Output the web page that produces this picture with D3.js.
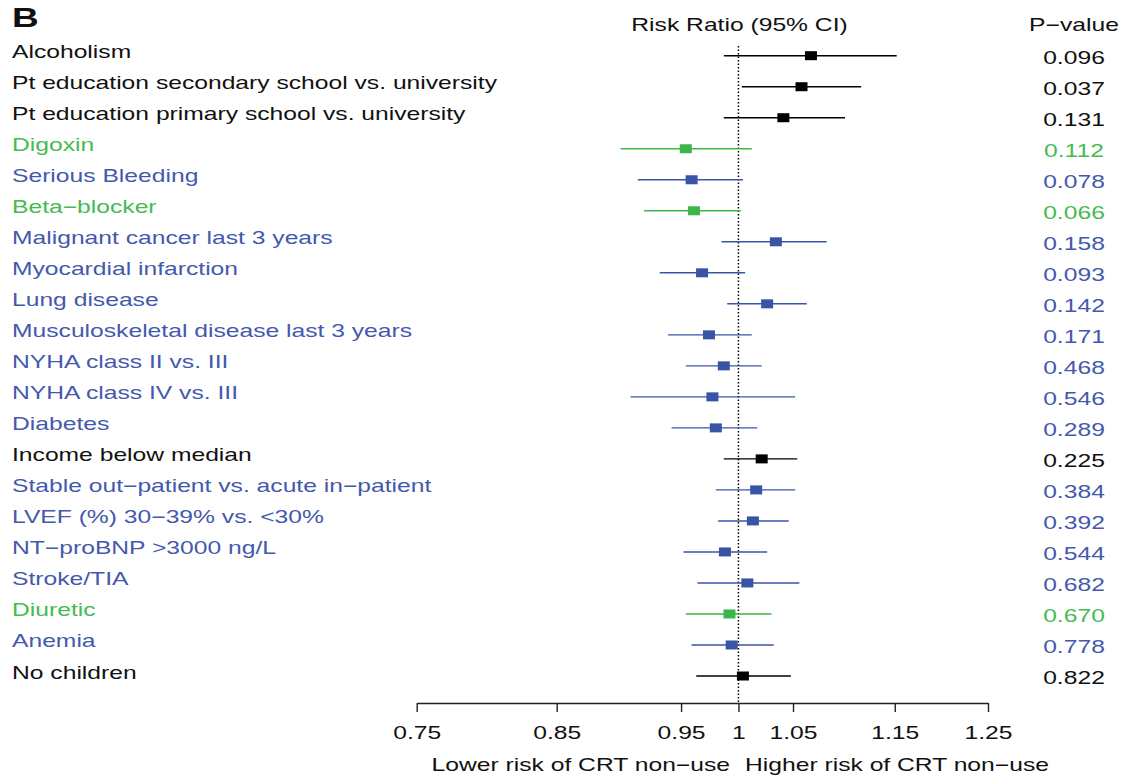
<!DOCTYPE html>
<html>
<head>
<meta charset="utf-8">
<script src="https://cdn.jsdelivr.net/npm/d3@7"></script>
<style>
  body { margin: 0; background: #fff; }
  svg { display: block; font-family: "Liberation Sans", Arial, Helvetica, sans-serif; }
</style>
</head>
<body>
<svg id="canvas" width="1121" height="775"></svg>
<script>
// rows, top to bottom
let labels = [
  'Alcoholism',
  'Pt education secondary school vs. university',
  'Pt education primary school vs. university',
  'Digoxin',
  'Serious Bleeding',
  'Beta\u2212blocker',
  'Malignant cancer last 3 years',
  'Myocardial infarction',
  'Lung disease',
  'Musculoskeletal disease last 3 years',
  'NYHA class II vs. III',
  'NYHA class IV vs. III',
  'Diabetes',
  'Income below median',
  'Stable out\u2212patient vs. acute in\u2212patient',
  'LVEF (%) 30\u221239% vs. <30%',
  'NT\u2212proBNP >3000 ng/L',
  'Stroke/TIA',
  'Diuretic',
  'Anemia',
  'No children'
]
let riskRatio = [1.067, 1.058, 1.041, 0.954, 0.959, 0.961, 1.034, 0.968, 1.026, 0.974, 0.987,
                 0.977, 0.980, 1.021, 1.016, 1.013, 0.988, 1.008, 0.992, 0.994, 1.004]
let ciLow = [0.987, 1.003, 0.987, 0.900, 0.914, 0.919, 0.985, 0.932, 0.990, 0.939, 0.954,
             0.908, 0.942, 0.987, 0.980, 0.982, 0.952, 0.964, 0.954, 0.959, 0.963]
let ciHigh = [1.152, 1.116, 1.100, 1.012, 1.004, 1.002, 1.082, 1.006, 1.063, 1.012, 1.021,
              1.052, 1.017, 1.054, 1.052, 1.046, 1.026, 1.056, 1.030, 1.032, 1.048]
let pValues = ['0.096', '0.037', '0.131', '0.112', '0.078', '0.066', '0.158', '0.093', '0.142', '0.171', '0.468',
               '0.546', '0.289', '0.225', '0.384', '0.392', '0.544', '0.682', '0.670', '0.778', '0.822']
let groups = ['k', 'k', 'k', 'g', 'b', 'g', 'b', 'b', 'b', 'b', 'b',
              'b', 'b', 'k', 'b', 'b', 'b', 'b', 'g', 'b', 'k']
let tickValues = [0.75, 0.85, 0.95, 1, 1.05, 1.15, 1.25]

let markColor = {k: '#000000', g: '#3cb54a', b: '#3a54a5'}
let textColor = {k: '#111111', g: '#45bb50', b: '#4459ad'}

let SX = 1.37   // the figure is stretched sideways
let canvas = d3.select('#canvas')

let x = d3.scaleLog().domain([0.75, 1.25]).range([416.7, 988])
let y = d3.scalePoint().domain(d3.range(labels.length)).range([55.7, 676])

let addText = (str, px, py, opts) => {
  let t = canvas.append('text')
    .attr('transform', 'translate(' + px + ',' + py + ') scale(' + SX + ',1)')
    .attr('font-size', opts.size || 18)
    .attr('text-anchor', opts.anchor || 'start')
    .attr('fill', opts.fill || '#111')
    .text(str)
  if (opts.bold) t.attr('font-weight', 'bold')
  return t
}

// panel letter and headers
addText('B', 12, 26.5, {size: 27, bold: true})
addText('Risk Ratio (95% CI)', 739.5, 31, {anchor: 'middle'})
addText('P\u2212value', 1074, 31, {anchor: 'middle'})

// reference line at 1
canvas.append('line')
  .attr('x1', x(1)).attr('x2', x(1))
  .attr('y1', 46).attr('y2', 703)
  .attr('stroke', '#000')
  .attr('stroke-width', 1.5)
  .attr('stroke-dasharray', '1.5,2')

let rows = canvas.selectAll('g.row')
  .data(labels)
  .enter()
  .append('g')
  .attr('class', 'row')

rows.append('line')
  .attr('x1', (d, i) => x(ciLow[i]))
  .attr('x2', (d, i) => x(ciHigh[i]))
  .attr('y1', (d, i) => y(i))
  .attr('y2', (d, i) => y(i))
  .attr('stroke', (d, i) => markColor[groups[i]])
  .attr('stroke-width', 1.4)

rows.append('rect')
  .attr('x', (d, i) => x(riskRatio[i]) - 6)
  .attr('y', (d, i) => y(i) - 4.5)
  .attr('width', 12)
  .attr('height', 9)
  .attr('fill', (d, i) => markColor[groups[i]])

labels.forEach((lab, i) => {
  addText(lab, 12, y(i) + 2.5, {fill: textColor[groups[i]]})
  addText(pValues[i], 1074, y(i) + 8, {anchor: 'middle', fill: textColor[groups[i]]})
})

// axis
let axis = canvas.append('g')
  .attr('transform', 'translate(0,703)')
  .call(d3.axisBottom(x)
    .tickValues(tickValues)
    .tickFormat(d => String(d))
    .tickSize(9)
    .tickSizeOuter(0)
    .tickPadding(14))
axis.select('.domain').attr('stroke', '#222').attr('stroke-width', 1.4)
axis.selectAll('.tick line').attr('stroke', '#222').attr('stroke-width', 1.4)
axis.selectAll('.tick text')
  .attr('font-family', '"Liberation Sans", Arial, sans-serif')
  .attr('font-size', 18)
  .attr('fill', '#111')
  .attr('transform', 'scale(' + SX + ',1)')

addText('Lower risk of CRT non\u2212use', 730, 771, {anchor: 'end'})
addText('Higher risk of CRT non\u2212use', 745, 771, {anchor: 'start'})
</script>
</body>
</html>
